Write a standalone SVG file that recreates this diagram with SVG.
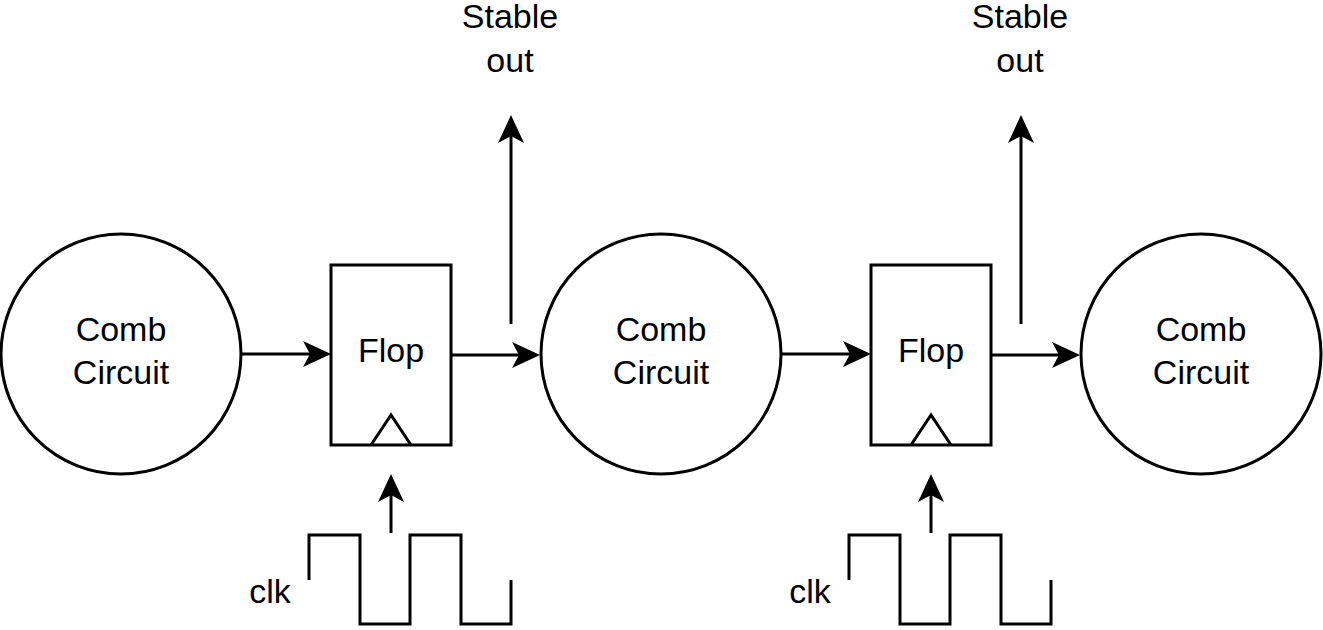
<svg xmlns="http://www.w3.org/2000/svg" width="1323" height="630" viewBox="0 0 1323 630">
<style>
.sh{fill:#fff;stroke:#000;stroke-width:3}
.ln{fill:none;stroke:#000;stroke-width:3}
.t{font-family:"Liberation Sans",Arial,Helvetica,sans-serif;font-size:34px;fill:#000;text-anchor:middle}
.c{marker-end:url(#ah)}
</style>
<defs>
<marker id="ah" markerUnits="userSpaceOnUse" viewBox="0 0 28 26" markerWidth="28" markerHeight="26" refX="7" refY="13" orient="auto">
<path d="M0,0 L28,13 L0,26 L7,13 Z" fill="#000"/>
</marker>
</defs>
<rect width="1323" height="630" fill="#fff"/>
<g id="comb1"><circle class="sh" cx="121" cy="354" r="120"/><text class="t" x="121" y="341">Comb</text><text class="t" x="121" y="384">Circuit</text></g>
<g id="comb2"><circle class="sh" cx="661" cy="354" r="120"/><text class="t" x="661" y="341">Comb</text><text class="t" x="661" y="384">Circuit</text></g>
<g id="comb3"><circle class="sh" cx="1201" cy="354" r="120"/><text class="t" x="1201" y="341">Comb</text><text class="t" x="1201" y="384">Circuit</text></g>
<g id="flop1"><rect class="sh" x="331" y="265" width="120" height="180"/><path class="ln" d="M371,445 L391,415 L411,445"/><text class="t" x="391" y="362">Flop</text></g>
<g id="flop2"><rect class="sh" x="871" y="265" width="120" height="180"/><path class="ln" d="M911,445 L931,415 L951,445"/><text class="t" x="931" y="362">Flop</text></g>
<g id="out1"><text class="t" x="510" y="28">Stable</text><text class="t" x="510" y="72">out</text></g>
<g id="out2"><text class="t" x="1020" y="28">Stable</text><text class="t" x="1020" y="72">out</text></g>
<g id="clk1"><path class="ln" d="M309,580 V535 H360 V624 H410 V535 H461 V624 H511 V580"/><text class="t" x="270" y="603">clk</text></g>
<g id="clk2"><path class="ln" d="M849,580 V535 H900 V624 H950 V535 H1001 V624 H1051 V580"/><text class="t" x="810" y="603">clk</text></g>
<g id="connectors">
<path class="ln c" d="M241,354 H310"/>
<path class="ln c" d="M451,355 H519"/>
<path class="ln c" d="M781,354 H850"/>
<path class="ln c" d="M991,355 H1059"/>
<path class="ln c" d="M511,324 V136"/>
<path class="ln c" d="M1021,324 V136"/>
<path class="ln c" d="M391,533 V495"/>
<path class="ln c" d="M931,533 V495"/>
</g>
</svg>
